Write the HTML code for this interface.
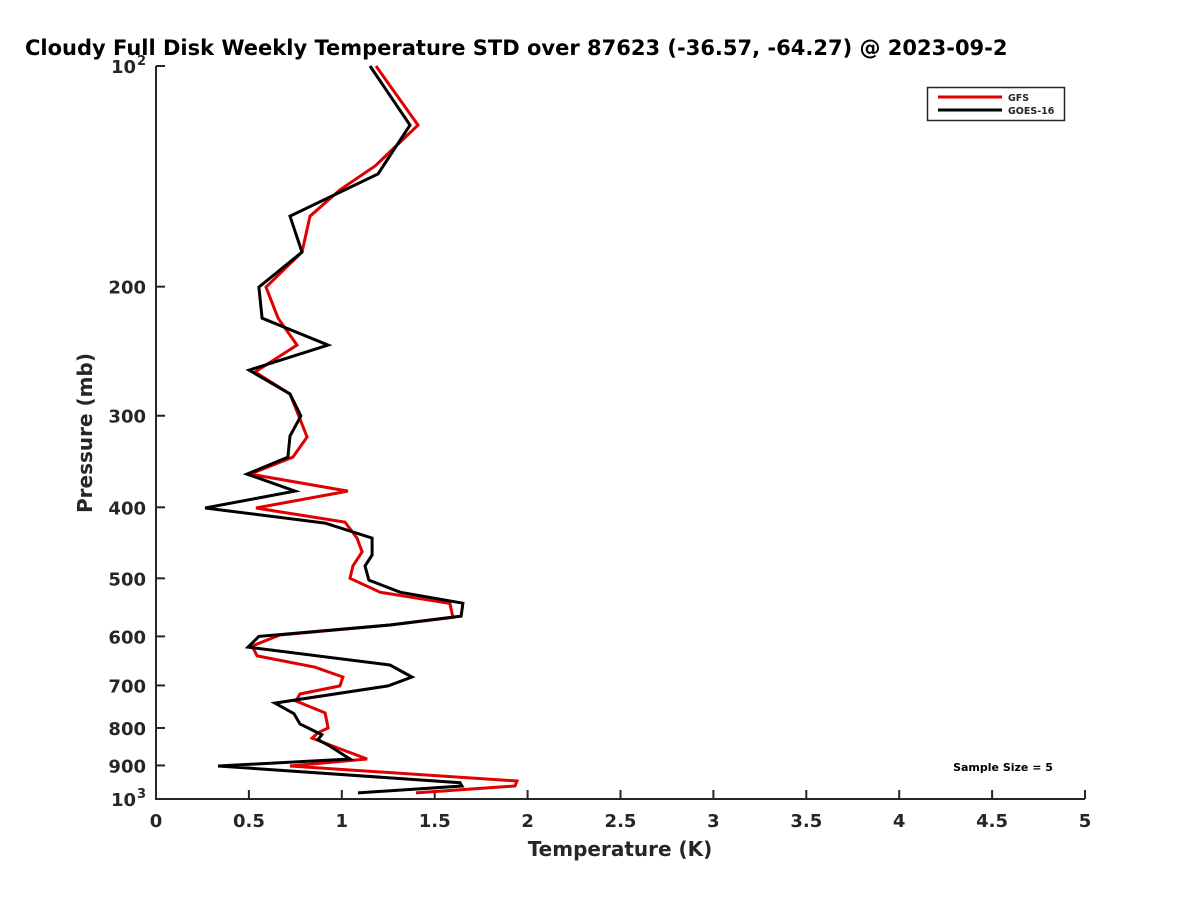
<!DOCTYPE html>
<html><head><meta charset="utf-8">
<style>
html,body{margin:0;padding:0;background:#fff;}
svg{display:block;font-family:"DejaVu Sans","Liberation Sans",sans-serif;}
</style></head>
<body>
<svg id="chart" width="1200" height="900" viewBox="0 0 1200 900">
<text x="25" y="55" text-anchor="start" font-size="21" font-weight="bold" fill="#000">Cloudy Full Disk Weekly Temperature STD over 87623 (-36.57, -64.27) @ 2023-09-2</text>
<g id="axes"></g>
<g id="series"></g>
<g>
<rect x="927.5" y="87.5" width="137" height="33" fill="#fff" stroke="#262626" stroke-width="1.5"/>
<line x1="938" y1="97" x2="1002" y2="97" stroke="#e00000" stroke-width="3"/>
<text x="1008" y="101" font-size="9.5" font-weight="bold" fill="#262626">GFS</text>
<line x1="938" y1="110" x2="1002" y2="110" stroke="#000" stroke-width="3"/>
<text x="1008" y="114" font-size="9.5" font-weight="bold" fill="#262626">GOES-16</text>
</g>
<text x="1003" y="771" text-anchor="middle" font-size="11" font-weight="bold" fill="#000">Sample Size = 5</text>
<text x="620" y="856" text-anchor="middle" font-size="20" font-weight="bold" fill="#262626">Temperature (K)</text>
<text transform="translate(92,433) rotate(-90)" text-anchor="middle" font-size="20" font-weight="bold" fill="#262626">Pressure (mb)</text>
</svg>
<script>
const xTicks = [0,0.5,1,1.5,2,2.5,3,3.5,4,4.5,5];
const xTickLabels = ["0","0.5","1","1.5","2","2.5","3","3.5","4","4.5","5"];
const yTicks = [100,200,300,400,500,600,700,800,900,1000];
const yTickLabels = ["10^2","200","300","400","500","600","700","800","900","10^3"];

const goesP = [100,120.4,140.4,160.3,179.4,200.3,220.8,240.3,259.9,280.2,300.3,319.7,341.6,360.4,380.1,400.9,420.3,440.6,464.7,481,502.8,522.2,540.6,562.9,578.9,600,620.6,656.4,681.6,701,740,765,790,810,817,830,844,882,901.6,950,960,981];
const goesT = [1.152,1.367,1.195,0.721,0.786,0.554,0.571,0.926,0.501,0.721,0.780,0.721,0.710,0.490,0.748,0.264,0.910,1.163,1.163,1.125,1.146,1.313,1.652,1.642,1.259,0.554,0.495,1.259,1.378,1.249,0.640,0.743,0.775,0.861,0.893,0.872,0.926,1.044,0.334,1.636,1.647,1.087];

const gfsP = [100,120.4,136.9,147.6,160.3,179.4,200.3,220.8,240.3,261.5,280.2,320.7,341.6,360.4,380.1,400.9,419,440.6,460,481,500,522.2,541,565,578.9,597.4,618.4,638,661,681.6,701,719,735,763,800,812,826,844,882,901.6,945,960,981];
const gfsT = [1.184,1.410,1.179,0.990,0.829,0.786,0.592,0.657,0.759,0.533,0.721,0.813,0.737,0.506,1.033,0.538,1.017,1.082,1.109,1.060,1.044,1.206,1.582,1.598,1.259,0.667,0.517,0.544,0.856,1.006,0.990,0.775,0.753,0.910,0.926,0.872,0.840,0.936,1.136,0.721,1.943,1.932,1.399];

const X0=156, X1=1085, Y0=66, Y1=799;
function xS(v){return X0+(v-0)/(5-0)*(X1-X0);}
function yS(p){return Y0+(Math.log10(p)-2)/(3-2)*(Y1-Y0);}
const NS="http://www.w3.org/2000/svg";
function mk(tag,attrs,parent){const e=document.createElementNS(NS,tag);for(const k in attrs)e.setAttribute(k,attrs[k]);parent.appendChild(e);return e;}

const axes=document.getElementById('axes');
let ax=mk('path',{d:`M${X0},${Y0} L${X0},${Y1} L${X1},${Y1}`,fill:'none',stroke:'#262626','stroke-width':2},axes);



xTicks.forEach((v,i)=>{
  const x=xS(v);
  const t=mk('line',{x1:x,y1:Y1,x2:x,y2:Y1-9,stroke:'#262626','stroke-width':2},axes);
  
  
  const l=mk('text',{x:x,y:Y1+28,'text-anchor':'middle','font-size':18,'font-weight':'bold',fill:'#262626'},axes);
  l.textContent=xTickLabels[i];
  
  
});

yTicks.forEach((p,i)=>{
  const y=yS(p);
  const t=mk('line',{x1:X0,y1:y,x2:X0+9,y2:y,stroke:'#262626','stroke-width':2},axes);
  
  
  const lab=yTickLabels[i];
  const l=mk('text',{x:X0-10,y:y+7,'text-anchor':'end','font-size':18,'font-weight':'bold',fill:'#262626'},axes);
  if(lab.indexOf('^')>=0){
    const parts=lab.split('^');
    l.setAttribute('x',X0-20);
    l.textContent=parts[0];
    const s=mk('text',{x:X0-19,y:y-1,'text-anchor':'start','font-size':13,'font-weight':'bold',fill:'#262626'},axes);
    s.textContent=parts[1];
    
    
  } else l.textContent=lab;
  
  
});

const series=document.getElementById('series');
function drawLine(T,P,color,name){
  const pts=T.map((t,i)=>xS(t).toFixed(1)+','+yS(P[i]).toFixed(1)).join(' ');
  const pl=mk('polyline',{points:pts,fill:'none',stroke:color,'stroke-width':3,'stroke-linejoin':'miter'},series);
  
  
}
drawLine(gfsT,gfsP,'#e00000','gfs-line');
drawLine(goesT,goesP,'#000000','goes16-line');
</script>
</body></html>
